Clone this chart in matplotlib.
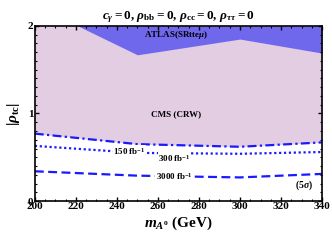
import matplotlib
matplotlib.use("Agg")
import matplotlib.pyplot as plt
from matplotlib.ticker import MultipleLocator

plt.rcParams['font.family'] = ['Liberation Serif', 'DejaVu Serif']
plt.rcParams['font.weight'] = 'bold'
plt.rcParams['axes.labelweight'] = 'bold'
plt.rcParams['axes.titleweight'] = 'bold'
plt.rcParams['mathtext.fontset'] = 'custom'
plt.rcParams['mathtext.rm'] = 'Liberation Serif:bold'
plt.rcParams['mathtext.bf'] = 'Liberation Serif:bold'
plt.rcParams['mathtext.it'] = 'Liberation Serif:italic:bold'

# masses (GeV)
mass = [200, 250, 300, 340]

# ATLAS(SRtte mu) exclusion lower boundary
atlas_mass = [200, 221, 250, 300, 340]
atlas_rho = [2.0, 2.0, 1.67, 1.85, 1.69]

# CMS (CRW) lower boundary
cms_rho = [0.77, 0.65, 0.62, 0.67]

# 5 sigma reach curves
rho_150 = [0.77, 0.65, 0.62, 0.67]
rho_300 = [0.63, 0.55, 0.54, 0.56]
rho_3000 = [0.34, 0.29, 0.27, 0.31]

pink = '#e3cde3'
atlas_col = '#7068ec'
line_col = '#1a1aff'

fig = plt.figure(figsize=(3.32, 2.47), dpi=100)
ax = fig.add_axes([0.105, 0.186, 0.865, 0.709])

ax.fill_between(mass, cms_rho, 2.0, color=pink, lw=0)
ax.fill_between(atlas_mass, atlas_rho, 2.0, color=atlas_col, lw=0)

ax.plot(mass, rho_150, color=line_col, lw=1.6, ls=(0, (4, 1.5, 1, 1.5)))
ax.plot(mass, rho_300, color=line_col, lw=1.6, ls=(0, (1, 1.2)))
ax.plot(mass, rho_3000, color=line_col, lw=1.6, ls=(0, (4, 2)))

box = dict(facecolor='white', edgecolor='none', pad=0.3)
ax.text(246, 0.57, r'150 fb$^{-1}$', fontsize=6.5, ha='center', va='center', bbox=box)
ax.text(268, 0.49, r'300 fb$^{-1}$', fontsize=6.5, ha='center', va='center', bbox=box)
ax.text(268, 0.28, r'3000 fb$^{-1}$', fontsize=6.5, ha='center', va='center', bbox=box)
ax.text(331, 0.18, r'$(5\sigma)$', fontsize=7, ha='center', va='center')
ax.text(269, 1.9, r'ATLAS(SRtte$\mu$)', fontsize=6.5, ha='center', va='center')
ax.text(269, 0.99, 'CMS (CRW)', fontsize=6.5, ha='center', va='center')

ax.set_xlim(200, 340)
ax.set_ylim(0, 2)
ax.xaxis.set_major_locator(MultipleLocator(20))
ax.xaxis.set_minor_locator(MultipleLocator(5))
ax.yaxis.set_major_locator(MultipleLocator(1))
ax.yaxis.set_minor_locator(MultipleLocator(0.1))
ax.tick_params(which='both', direction='in', top=True, right=True, labelsize=8, pad=1)
ax.tick_params(which='major', length=3, width=1)
ax.tick_params(which='minor', length=1.5, width=0.8)
for s in ax.spines.values():
    s.set_linewidth(1.2)

ax.set_xlabel(r'$m_{A^0}$ (GeV)', fontsize=11, labelpad=2)
ax.set_ylabel(r'$|\rho_{\rm tc}|$', fontsize=11, labelpad=4)
ax.set_title(r'$c_\gamma = 0$, $\rho_{\rm bb} = 0$, $\rho_{\rm cc} = 0$, $\rho_{\tau\tau} = 0$',
             fontsize=9.5, pad=5)

fig.savefig('out.png', dpi=100)
